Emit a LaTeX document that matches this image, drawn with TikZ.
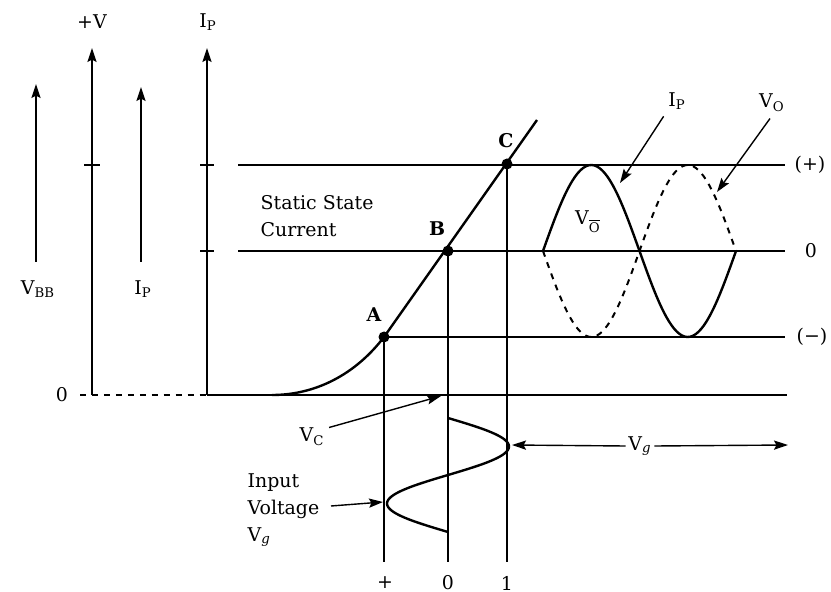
\documentclass[tikz,border=0pt]{standalone}
\usepackage{fontspec}
\setmainfont{DejaVu Serif}
\usetikzlibrary{arrows.meta,positioning}
\begin{document}
\begin{tikzpicture}[>={Stealth[length=7bp,width=4.6bp,inset=1.2bp]}, x=0.5bp, y=-0.5bp, line width=0.7pt,
    lbl/.style={font=\fontsize{9.5}{13.5}\selectfont, inner sep=1pt},
    dot/.style={circle, fill, inner sep=0pt, minimum size=5.5bp}]
  \useasboundingbox (0,0) rectangle (831,592);

  % left arrows and axes
  \draw[->] (36,262) -- (36,84);
  \node[lbl] (vbb) at (38,289) {V\textsubscript{BB}};
  \draw[->] (92,395) -- (92,48);
  \node[lbl] (plusv) at (92,22) {+V};
  \draw (84,165) -- (100,165);
  \draw[->] (141,262) -- (141,87);
  \node[lbl] (ipl) at (143,289) {I\textsubscript{P}};
  \draw[->] (207,395) -- (207,48);
  \node[lbl] (ipa) at (208,22) {I\textsubscript{P}};
  \draw (200,165) -- (214,165);
  \draw (200,251) -- (214,251);

  % zero line
  \node[lbl] (zero) at (62,395) {0};
  \draw[dashed] (80,395) -- (207,395);
  \draw (207,395) -- (787,395);

  % operating points
  \coordinate (A) at (384,337);
  \coordinate (B) at (448,251);
  \coordinate (C) at (507,164);

  \draw (238,165) -- (785,165);
  \draw (238,251) -- (785,251);
  \draw (A) -- (785,337);
  \node[lbl] (pos) at (810,165) {(+)};
  \node[lbl] (mid) at (811,251) {0};
  \node[lbl, anchor=west] (neg) at (794,337) {(−)};

  \draw[line width=1.2pt] (272,395) .. controls (315,395) and (355,375) .. (A) -- (537,120);
  \node[dot] at (A) {};
  \node[dot] at (B) {};
  \node[dot] at (C) {};
  \node[lbl] (la) at (374,315) {\textbf{A}};
  \node[lbl] (lb) at (437,229) {\textbf{B}};
  \node[lbl] (lc) at (506,141) {\textbf{C}};

  \node[lbl, align=left, anchor=west] (static) at (258,216) {Static State\\Current};

  % verticals down to the input
  \draw (A) -- (384,562);
  \draw (B) -- (448,562);
  \draw (C) -- (507,562);
  \node[lbl] (ap) at (385,583) {+};
  \node[lbl] (b0) at (448,583) {0};
  \node[lbl] (c1) at (507,583) {1};

  % output waves
  \draw[line width=1.2pt] plot[domain=0:360, samples=73] ({543+\x/360*193}, {251-86*sin(\x)});
  \draw[line width=1pt, dashed] plot[domain=0:360, samples=73] ({543+\x/360*193}, {251+86*sin(\x)});
  \node[lbl] (vo1) at (588,222) {V\textsubscript{$\overline{\mbox{O}}$}};
  \node[lbl] (ipw) at (677,101) {I\textsubscript{P}};
  \coordinate (ipt) at (620,183);
  \draw[->] (ipw.south west) ++(-2,4) -- (ipt);
  \node[lbl] (vo2) at (772,103) {V\textsubscript{O}};
  \coordinate (vot) at (717,192);
  \draw[->] (vo2.south) ++(-2,4) -- (vot);

  % input wave
  \draw[line width=1.2pt] plot[domain=0:360, samples=73] ({448+61*sin(\x)}, {418+\x/360*114});
  \node[lbl] (vg) at (640,446) {V\textsubscript{\itshape g}};
  \coordinate (vgl) at (512,445);
  \coordinate (vgr) at (788,445);
  \draw[->] (vg.west) -- (vgl);
  \draw[->] (vg.east) -- (vgr);

  \node[lbl] (vc) at (312,437) {V\textsubscript{C}};
  \coordinate (vct) at (441,396);
  \draw[->] (vc.north east) ++(2,2) -- (vct);

  \node[lbl, align=left, anchor=west] (input) at (245,510) {Input\\Voltage\\V\textsubscript{\itshape g}};
  \coordinate (ivt) at (383,502);
  \draw[->] (331,506) -- (ivt);
\end{tikzpicture}
\end{document}
